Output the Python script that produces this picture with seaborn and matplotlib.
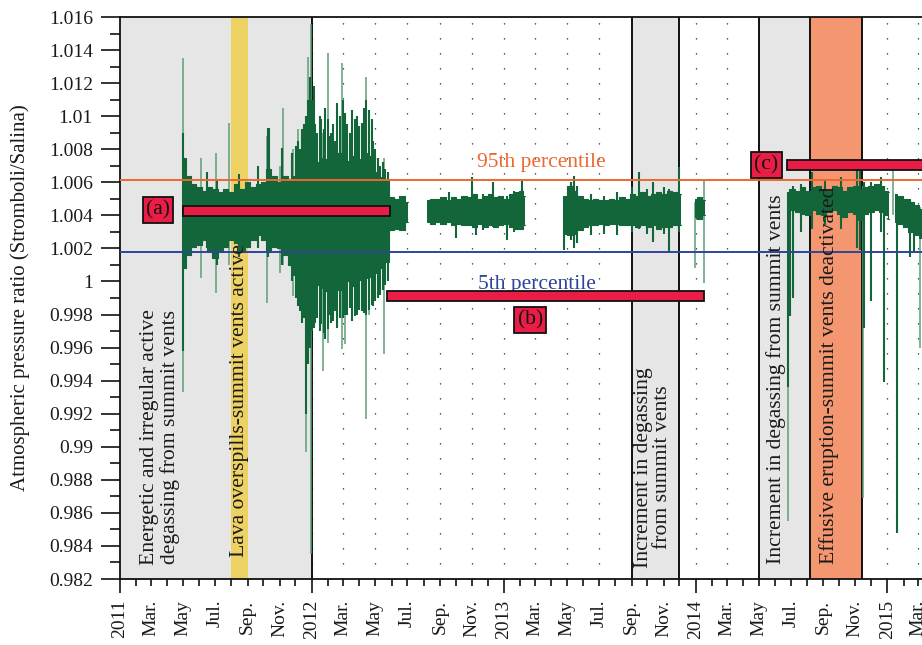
import matplotlib
matplotlib.use("Agg")
import matplotlib.pyplot as plt
import matplotlib.dates as mdates
from matplotlib.patches import Rectangle
from matplotlib.ticker import MultipleLocator, FuncFormatter
import numpy as np
import pandas as pd
import seaborn as sns

sns.set_theme(style="white")
plt.rcParams["font.family"] = ["Liberation Serif", "DejaVu Serif"]

# ---------------------------------------------------------------- data
# Dense core of the pressure-ratio record (upper / lower envelope);
# None marks a gap in the acquisition.
band_dates = [
    "2011-05-01", "2011-05-11", "2011-05-21", "2011-06-01", "2011-06-11", "2011-06-21",
    "2011-07-01", "2011-07-11", "2011-07-21", "2011-08-01", "2011-08-11", "2011-08-21",
    "2011-09-01", "2011-09-11", "2011-09-21", "2011-10-01", "2011-10-11", "2011-10-21",
    "2011-11-01", "2011-11-11", "2011-11-21", "2011-12-01", "2011-12-11", "2011-12-21",
    "2012-01-01", "2012-01-11", "2012-01-21", "2012-02-01", "2012-02-11", "2012-02-21",
    "2012-03-01", "2012-03-11", "2012-03-21", "2012-04-01", "2012-04-11", "2012-04-21",
    "2012-05-01", "2012-05-11", "2012-05-21", "2012-06-01", "2012-06-11", "2012-06-21",
    "2012-07-03", "2012-07-20",
    "2012-08-08", "2012-08-18", "2012-08-28", "2012-09-07", "2012-09-17", "2012-09-27",
    "2012-10-07", "2012-10-17", "2012-10-27", "2012-11-06", "2012-11-16", "2012-11-26",
    "2012-12-06", "2012-12-16", "2012-12-26", "2013-01-05", "2013-01-15", "2013-01-25",
    "2013-02-04", "2013-02-10", "2013-03-15",
    "2013-04-26", "2013-05-06", "2013-05-16", "2013-05-26", "2013-06-05", "2013-06-15",
    "2013-06-25", "2013-07-05", "2013-07-15", "2013-07-25", "2013-08-04", "2013-08-14",
    "2013-08-24", "2013-09-03", "2013-09-13", "2013-09-23", "2013-10-03", "2013-10-13",
    "2013-10-23", "2013-11-02", "2013-11-12", "2013-11-22", "2013-12-05", "2013-12-18",
    "2013-12-31", "2014-01-08", "2014-01-18", "2014-03-01",
    "2014-06-24", "2014-07-04", "2014-07-14", "2014-07-24", "2014-08-03", "2014-08-13",
    "2014-08-23", "2014-09-02", "2014-09-12", "2014-09-22", "2014-10-02", "2014-10-12",
    "2014-10-22", "2014-11-01", "2014-11-11", "2014-11-21", "2014-12-01", "2014-12-11",
    "2014-12-21", "2014-12-31", "2015-01-05", "2015-01-10",
    "2015-01-15", "2015-01-25", "2015-02-04", "2015-02-14", "2015-02-24", "2015-03-08",
]
band_hi = [
    1.0075, 1.0064, 1.0059, 1.0057, 1.0055, 1.0057,
    1.0056, 1.0054, 1.0056, 1.0054, 1.0059, 1.0056,
    1.0060, 1.0057, 1.0059, 1.0060, 1.0068, 1.0064,
    1.0060, 1.0064, 1.0062, 1.0064, 1.0068, 1.0070,
    1.0076, 1.0072, 1.0075, 1.0074, 1.0072, 1.0078,
    1.0078, 1.0073, 1.0076, 1.0074, 1.0078, 1.0076,
    1.0066, 1.0063, 1.0062, 1.0051, 1.0050, 1.0052,
    1.0048, None,
    1.0049, 1.0050, 1.0050, 1.0051, 1.0049, 1.0051,
    1.0050, 1.0052, 1.0051, 1.0053, 1.0050, 1.0052,
    1.0053, 1.0051, 1.0052, 1.0050, 1.0053, 1.0054,
    1.0055, 1.0052, None,
    1.0052, 1.0058, 1.0055, 1.0052, 1.0050, 1.0049,
    1.0050, 1.0049, 1.0049, 1.0050, 1.0049, 1.0051,
    1.0050, 1.0053, 1.0052, 1.0054, 1.0052, 1.0053,
    1.0054, 1.0053, 1.0055, 1.0054, 1.0053, None,
    1.0050, 1.0051, 1.0049, None,
    1.0054, 1.0056, 1.0055, 1.0057, 1.0055, 1.0057,
    1.0058, 1.0056, 1.0055, 1.0058, 1.0057, 1.0055,
    1.0057, 1.0058, 1.0056, 1.0057, 1.0058, 1.0059,
    1.0058, 1.0055, 1.0054, None,
    1.0053, 1.0052, 1.0050, 1.0048, 1.0046, 1.0044,
]
band_lo = [
    1.0008, 1.0016, 1.0021, 1.0022, 1.0025, 1.0018,
    1.0014, 1.0018, 1.0021, 1.0025, 1.0023, 1.0018,
    1.0021, 1.0025, 1.0028, 1.0025, 1.0018, 1.0021,
    1.0020, 1.0016, 1.0010, 1.0004, 0.9998, 0.9994,
    0.9992, 0.9998, 0.9996, 0.9994, 0.9998, 0.9995,
    0.9998, 1.0000, 0.9997, 1.0001, 1.0002, 1.0003,
    1.0005, 1.0008, 1.0012, 1.0031, 1.0032, 1.0031,
    1.0036, None,
    1.0036, 1.0035, 1.0036, 1.0035, 1.0036, 1.0034,
    1.0035, 1.0034, 1.0034, 1.0033, 1.0035, 1.0033,
    1.0034, 1.0033, 1.0034, 1.0035, 1.0033, 1.0032,
    1.0032, 1.0034, None,
    1.0029, 1.0028, 1.0029, 1.0031, 1.0033, 1.0034,
    1.0034, 1.0035, 1.0034, 1.0035, 1.0035, 1.0034,
    1.0034, 1.0034, 1.0033, 1.0034, 1.0033, 1.0034,
    1.0032, 1.0033, 1.0033, 1.0034, 1.0034, None,
    1.0039, 1.0038, 1.0040, None,
    1.0041, 1.0043, 1.0042, 1.0041, 1.0040, 1.0043,
    1.0041, 1.0040, 1.0042, 1.0043, 1.0041, 1.0039,
    1.0042, 1.0041, 1.0037, 1.0041, 1.0042, 1.0043,
    1.0042, 1.0040, 1.0038, None,
    1.0036, 1.0035, 1.0033, 1.0030, 1.0028, 1.0026,
]

# Individual excursions drawn in the main colour
spike_dates = [
    "2011-05-01", "2011-05-04", "2011-06-15", "2011-07-05", "2011-08-15", "2011-09-20",
    "2011-10-09", "2011-10-12", "2011-11-05", "2011-11-25", "2011-12-03", "2011-12-05",
    "2011-12-09", "2011-12-14", "2011-12-17", "2011-12-21", "2011-12-25", "2011-12-29",
    "2012-01-02", "2012-01-05", "2012-01-08", "2012-01-12", "2012-01-16", "2012-01-19",
    "2012-01-24", "2012-01-27", "2012-02-01", "2012-02-04", "2012-02-07", "2012-02-10",
    "2012-02-14", "2012-02-19", "2012-02-24", "2012-03-01", "2012-03-04", "2012-03-08",
    "2012-03-13", "2012-03-18", "2012-03-23", "2012-03-28", "2012-04-01", "2012-04-05",
    "2012-04-09", "2012-04-14", "2012-04-20", "2012-04-24", "2012-04-27", "2012-04-30",
    "2012-05-06", "2012-05-10", "2012-05-16", "2012-05-20", "2012-05-25",
    "2012-09-18", "2012-10-01", "2012-11-01", "2012-11-08", "2012-11-22", "2012-12-12",
    "2013-01-06", "2013-01-20", "2013-02-04",
    "2013-04-26", "2013-05-08", "2013-05-14", "2013-05-20", "2013-06-15", "2013-07-10",
    "2013-08-05", "2013-09-01", "2013-09-15", "2013-09-30", "2013-10-12", "2013-11-02",
    "2013-11-12", "2013-11-30",
    "2014-06-25", "2014-06-30", "2014-07-06", "2014-07-20", "2014-08-10", "2014-09-05",
    "2014-10-05", "2014-11-05", "2014-11-10", "2014-11-17", "2014-11-30", "2014-12-20",
    "2014-12-26", "2015-01-20", "2015-02-14", "2015-02-20",
]
spike_lo = [
    0.9958, 1.0010, 1.0020, 1.0010, 1.0015, 1.0020,
    1.0015, 1.0018, 1.0010, 1.0000, 0.9990, 0.9985,
    0.9982, 0.9975, 0.9978, 0.9920, 0.9950, 0.9960,
    0.9970, 0.9972, 0.9975, 0.9978, 0.9970, 0.9974,
    0.9969, 0.9965, 0.9971, 0.9980, 0.9975, 0.9976,
    0.9982, 0.9972, 0.9978, 0.9978, 0.9980, 0.9980,
    0.9984, 0.9976, 0.9979, 0.9980, 0.9983, 0.9982,
    0.9981, 0.9980, 0.9983, 0.9986, 0.9985, 0.9988,
    0.9990, 0.9992, 0.9995, 0.9998, 1.0000,
    1.0036, 1.0026, 1.0034, 1.0028, 1.0031, 1.0033,
    1.0025, 1.0030, 1.0031,
    1.0019, 1.0025, 1.0020, 1.0023, 1.0028, 1.0029,
    1.0028, 1.0030, 1.0032, 1.0029, 1.0024, 1.0029,
    1.0017, 1.0030,
    0.9936, 0.9979, 0.9990, 1.0030, 1.0032, 1.0034,
    1.0032, 1.0020, 1.0019, 0.9972, 0.9988, 1.0030,
    0.9939, 0.9848, 1.0015, 1.0018,
]
spike_hi = [
    1.0090, 1.0075, 1.0066, 1.0062, 1.0065, 1.0070,
    1.0093, 1.0093, 1.0081, 1.0078, 1.0082, 1.0085,
    1.0080, 1.0092, 1.0095, 1.0100, 1.0110, 1.0124,
    1.0110, 1.0118, 1.0095, 1.0090, 1.0100, 1.0098,
    1.0092, 1.0105, 1.0098, 1.0088, 1.0090, 1.0095,
    1.0085, 1.0108, 1.0100, 1.0110, 1.0102, 1.0095,
    1.0090, 1.0104, 1.0098, 1.0100, 1.0094, 1.0096,
    1.0105, 1.0110, 1.0104, 1.0098, 1.0085, 1.0080,
    1.0075, 1.0070, 1.0072, 1.0068, 1.0066,
    1.0054, 1.0050, 1.0063, 1.0052, 1.0053, 1.0060,
    1.0052, 1.0055, 1.0061,
    1.0052, 1.0060, 1.0064, 1.0058, 1.0053, 1.0052,
    1.0054, 1.0057, 1.0066, 1.0056, 1.0060, 1.0057,
    1.0056, 1.0069,
    1.0054, 1.0056, 1.0058, 1.0059, 1.0066, 1.0062,
    1.0063, 1.0068, 1.0067, 1.0060, 1.0060, 1.0063,
    1.0058, 1.0050, 1.0050, 1.0048,
]

# Sparse, isolated excursions (paler traces)
trace_dates = [
    "2011-04-30", "2011-06-04", "2011-07-03", "2011-07-28", "2011-10-08", "2011-11-01",
    "2011-11-07", "2011-11-27", "2011-12-06", "2011-12-22", "2011-12-25", "2011-12-31",
    "2012-01-22", "2012-02-01", "2012-02-27", "2012-03-05", "2012-04-14", "2012-04-20",
    "2012-05-18",
    "2013-12-31", "2014-01-16",
    "2014-06-26", "2014-11-16", "2015-01-12", "2015-03-04",
]
trace_lo = [
    0.9933, 1.0002, 0.9993, 1.0010, 0.9987, 1.0005,
    1.0010, 0.9991, 1.0000, 0.9897, 0.9990, 0.9835,
    0.9946, 0.9963, 0.9959, 0.9962, 0.9917, 0.9980,
    0.9956,
    1.0008, 0.9999,
    0.9855, 0.9869, 1.0040, 0.9960,
]
trace_hi = [
    1.0135, 1.0075, 1.0078, 1.0096, 1.0088, 1.0070,
    1.0105, 1.0080, 1.0092, 1.0060, 1.0136, 1.0156,
    1.0090, 1.0138, 1.0132, 1.0100, 1.0124, 1.0104,
    1.0075,
    1.0048, 1.0062,
    1.0050, 1.0058, 1.0067, 1.0045,
]

p95 = 1.00614
p5 = 1.00178

# Activity phases (start, end)
gray_phases = [("2011-01-01", "2012-01-01"), ("2013-09-01", "2013-12-01"), ("2014-05-01", "2014-08-07")]
overspill_phase = ("2011-08-01", "2011-09-01")
effusive_phase = ("2014-08-07", "2014-11-13")

# Observation periods (a), (b), (c): start, end, level
period_labels = ["(a)", "(b)", "(c)"]
period_start = ["2011-05-01", "2012-05-23", "2014-06-24"]
period_end = ["2012-05-29", "2014-01-17", "2015-06-01"]
period_level = [1.00426, 0.99912, 1.00705]
period_label_date = ["2011-03-14", "2013-02-20", "2014-05-16"]
period_label_level = [1.00432, 0.99767, 1.00705]

# ---------------------------------------------------------------- style
GREEN = "#13663a"
PALE_GREEN = "#5f9e76"
GRAY = "#e6e6e6"
YELLOW = "#eed163"
SALMON = "#f4966f"
C95 = "#f0672f"
C5 = "#2d4599"
RED = "#ea1d47"
FS_TICK = 14
FS_NOTE = 15.6

fig = plt.figure(figsize=(9.22, 6.45), dpi=100)
ax = fig.add_axes([120 / 922, 1 - 579 / 645, 802 / 922, 562 / 645])

x0, x1 = pd.Timestamp("2011-01-01"), pd.Timestamp("2015-03-08")
y0, y1 = 0.982, 1.016
ax.set_xlim(x0, x1)
ax.set_ylim(y0, y1)

# dotted vertical guides every two months
guides = pd.date_range("2011-01-01", "2015-03-01", freq="2MS")
ax.vlines(guides, y0, y1, colors="#222222", linestyles=(0, (1, 11)), lw=0.9, zorder=0.5)

# activity phases
for s, e in gray_phases:
    ax.axvspan(pd.Timestamp(s), pd.Timestamp(e), color=GRAY, lw=0, zorder=1)
ax.axvspan(pd.Timestamp(overspill_phase[0]), pd.Timestamp(overspill_phase[1]), color=YELLOW, lw=0, zorder=1.1)
ax.axvspan(pd.Timestamp(effusive_phase[0]), pd.Timestamp(effusive_phase[1]), color=SALMON, lw=0, zorder=1.1)
for d in ["2012-01-01", "2013-09-01", "2013-12-01", "2014-05-01", "2014-08-07", "2014-11-13"]:
    ax.axvline(pd.Timestamp(d), color="#111111", lw=1.4, zorder=1.5)

# pressure-ratio record
bd = pd.to_datetime(band_dates)
bhi = np.array(band_hi, dtype=float)
blo = np.array(band_lo, dtype=float)
ax.fill_between(bd, blo, bhi, step="mid", color=GREEN, lw=0, zorder=3)

seg = np.cumsum(np.isnan(bhi))
edges = pd.concat([
    pd.DataFrame({"date": bd, "ratio": bhi, "trace": [f"hi{k}" for k in seg]}),
    pd.DataFrame({"date": bd, "ratio": blo, "trace": [f"lo{k}" for k in seg]}),
]).dropna()
sns.lineplot(data=edges, x="date", y="ratio", units="trace", estimator=None,
             drawstyle="steps-mid", color=GREEN, lw=0.8, legend=False, ax=ax, zorder=3)

ax.vlines(pd.to_datetime(trace_dates), trace_lo, trace_hi, colors=PALE_GREEN, lw=1.1, zorder=2.8)
ax.vlines(pd.to_datetime(spike_dates), spike_lo, spike_hi, colors=GREEN, lw=1.5, zorder=3)

# percentile levels
ax.axhline(p95, color=C95, lw=1.4, zorder=4)
ax.axhline(p5, color=C5, lw=1.4, zorder=4)
ax.text(pd.Timestamp("2013-03-13"), 1.00717, "95th percentile", color=C95, fontsize=15.5,
        ha="center", va="center", zorder=5)
ax.text(pd.Timestamp("2013-03-05"), 0.99981, "5th percentile", color=C5, fontsize=15.5,
        ha="center", va="center", zorder=5)

# observation periods
bar_h = 0.0006
for lab, s, e, lvl, ld, ll in zip(period_labels, period_start, period_end, period_level,
                                  period_label_date, period_label_level):
    xs = mdates.date2num(pd.Timestamp(s))
    xe = mdates.date2num(pd.Timestamp(e))
    ax.add_patch(Rectangle((xs, lvl - bar_h / 2), xe - xs, bar_h, facecolor=RED,
                           edgecolor="#111111", lw=1.3, zorder=6))
    ax.text(pd.Timestamp(ld), ll, lab, fontsize=15.5, ha="center", va="center", color="#111111",
            zorder=7, bbox=dict(boxstyle="square,pad=0.15", fc=RED, ec="#111111", lw=1.3))

# phase descriptions
txt_kw = dict(rotation=90, ha="center", va="bottom", fontsize=FS_NOTE, color="#1a1a1a",
              multialignment="center", linespacing=1.05, zorder=5)
ax.text(pd.Timestamp("2011-03-18"), 0.98285,
        "Energetic and irregular active\ndegassing from summit vents", **txt_kw)
ax.text(pd.Timestamp("2011-08-17"), 0.98333, "Lava overspills-summit vents active", **txt_kw)
ax.text(pd.Timestamp("2013-10-12"), 0.98267, "Increment in degassing\nfrom summit vents", **txt_kw)
ax.text(pd.Timestamp("2014-06-04"), 0.98290, "Increment in degassing from summit vents", **txt_kw)
ax.text(pd.Timestamp("2014-09-12"), 0.98290, "Effusive eruption-summit vents deactivated", **txt_kw)

# axes
for side in ["left", "bottom", "top"]:
    ax.spines[side].set_color("#111111")
    ax.spines[side].set_linewidth(1.3)
ax.spines["right"].set_visible(False)

ax.yaxis.set_major_locator(MultipleLocator(0.002))
ax.yaxis.set_minor_locator(MultipleLocator(0.001))
ax.yaxis.set_major_formatter(FuncFormatter(lambda v, p: f"{round(v, 3):.3f}".rstrip("0").rstrip(".")))

month_names = {3: "Mar.", 5: "May", 7: "Jul.", 9: "Sep.", 11: "Nov."}
ax.xaxis.set_major_locator(mdates.YearLocator())
ax.xaxis.set_major_formatter(mdates.DateFormatter("%Y"))
ax.xaxis.set_minor_locator(mdates.MonthLocator())
ax.xaxis.set_minor_formatter(FuncFormatter(lambda v, p: month_names.get(mdates.num2date(v).month, "")))

ax.tick_params(axis="both", which="both", direction="out", color="#111111", width=1.2,
               labelsize=FS_TICK, labelcolor="#1a1a1a", left=True, bottom=True)
ax.tick_params(axis="y", which="major", length=14, pad=5.5)
ax.tick_params(axis="y", which="minor", length=7)
ax.tick_params(axis="x", which="major", length=10, pad=5, labelrotation=90)
ax.tick_params(axis="x", which="minor", length=5, pad=10, labelrotation=90)

ax.set_xlabel("")
ax.set_ylabel("Atmospheric pressure ratio (Stromboli/Salina)", fontsize=15, color="#1a1a1a")
ax.yaxis.set_label_coords(-0.112, 0.5)

fig.savefig("out.png", dpi=100)
